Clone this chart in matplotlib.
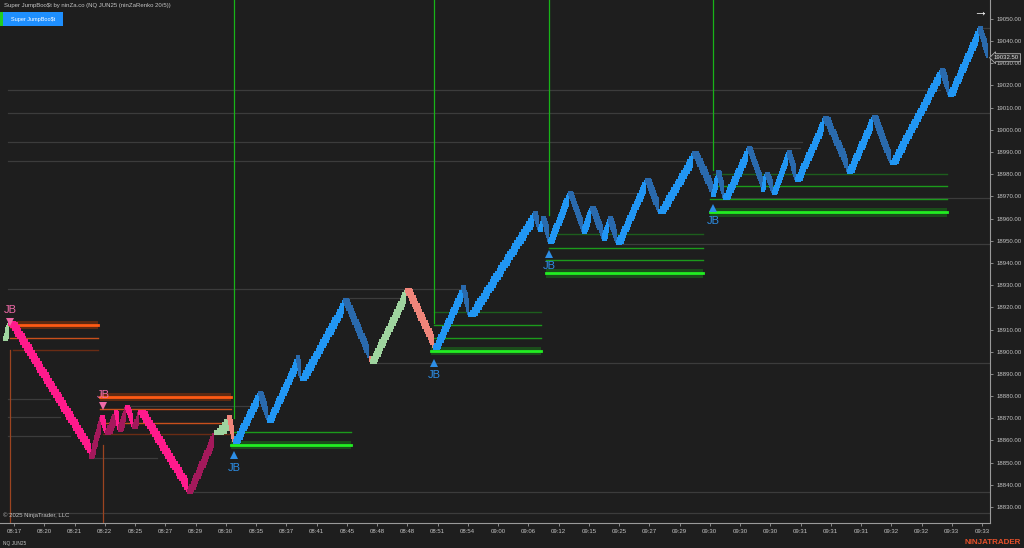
import numpy as np
import matplotlib.pyplot as plt
from matplotlib.patches import Rectangle

plt.rcParams['font.family'] = ['Liberation Sans', 'DejaVu Sans']

bg = '#1e1e1e'
txt_col = '#c4c4c4'

# swing pivots of the renko path: bar index, price, colour state of the leg ending there
piv_bar = [2, 4, 45, 50, 52.5, 57.5, 59, 62.5, 66, 69, 93.5, 106.5, 114, 116.5,
           129, 133.5, 148.5, 150, 171.5, 184, 185, 202.5, 216.5, 231, 234, 266.5,
           269, 271, 274, 284, 291, 295, 301, 304, 308, 322.5, 329, 346, 356, 358.5,
           361.5, 373.5, 381, 382.5, 386, 393.5, 397.5, 411.5, 423.5, 436, 445, 470,
           474, 489, 493.5]
piv_price = [18906, 18913, 18852.5, 18870.6, 18863.3, 18872.8, 18864.7, 18875, 18866,
             18872.8, 18836.8, 18863.3, 18870.6, 18859.3, 18881.4, 18869, 18897.6,
             18888, 18923.3, 18897, 18895.5, 18927.8, 18901.6, 18929, 18916.5, 18962.5,
             18955, 18960, 18949.4, 18971.5, 18954, 18964.7, 18951, 18960, 18949,
             18977.5, 18963, 18989.5, 18970.6, 18981, 18969.2, 18991.8, 18972.9, 18980,
             18971.5, 18990, 18977.4, 19005.3, 18981, 19005.8, 18985, 19027, 19015.7,
             19045.9, 19032.5]
piv_state = ['', 'pg', 'pk', 'dm', 'pk', 'dm', 'pk', 'dm', 'pk', 'dm', 'pk', 'dm', 'pg',
             'sa', 'bl', 'db', 'bl', 'db', 'bl', 'db', 'sa', 'pg', 'sa', 'bl', 'db', 'bl',
             'db', 'bl', 'db', 'bl', 'db', 'bl', 'db', 'bl', 'db', 'bl', 'db', 'bl', 'db',
             'bl', 'db', 'bl', 'db', 'bl', 'db', 'bl', 'db', 'bl', 'db', 'bl', 'db', 'bl',
             'db', 'bl', 'db']
state_col = {'bl': '#2196f3', 'db': '#2a6aad', 'pk': '#ff1a8c', 'dm': '#a3195b',
             'pg': '#9fd49f', 'sa': '#f0857a'}

brick_step = 1.25   # 5 ticks
brick_body = 6.5

# JumpBoost signals
jb_bar = [5, 51.5, 117, 217, 274.5, 356.5]
jb_price = [18913.4, 18875.5, 18853.4, 18894.9, 18944, 18964.7]
jb_dir = ['down', 'down', 'up', 'up', 'up', 'up']
jb_end = [49, 115.5, 175.5, 270.5, 351.5, 473.5]
jb_levels = [[18912, 18906.3, 18900.7],
             [18879.6, 18874, 18868, 18862.9],
             [18858, 18863.8],
             [18900.4, 18906.3, 18912, 18917.9],
             [18935.3, 18941.3, 18946.9, 18953],
             [18962.8, 18968.8, 18974.7, 18980.1]]
jb_vline = [18900.7, 18858, 18870, 18912.9, 18961.6, 18981.9]

# grey swing level lines: start bar, end bar, price
sw_start = [4, 4, 4, 45, 62.5, 93.5, 4, 171.5, 185, 284, 308, 4, 4, 4, 373.5, 361.5, 489, 4, 4]
sw_end = [25, 30, 35, 78.5, 130, 495, 231, 202.5, 495, 322.5, 495, 470, 495, 401, 400, 495, 495, 495, 346]
sw_price = [18878.8, 18870.7, 18862.1, 18852.1, 18875.6, 18836.7, 18928.2, 18924, 18894.9,
            18971.5, 18948.5, 19017.9, 19007.6, 18994.5, 18991.8, 18969.2, 19046, 18827.3,
            18985.9]

tick_labels = ['08:17', '08:20', '08:21', '08:22', '08:25', '08:27', '08:29', '08:30',
               '08:35', '08:37', '08:41', '08:45', '08:48', '08:48', '08:51', '08:54',
               '09:00', '09:06', '09:12', '09:15', '09:25', '09:27', '09:29', '09:30',
               '09:30', '09:30', '09:31', '09:31', '09:31', '09:32', '09:32', '09:33', '09:33']
last_price = 19032.50

fig = plt.figure(figsize=(10.24, 5.48), dpi=100)
fig.patch.set_facecolor(bg)
ax = fig.add_axes([0, 25/548, 990/1024, 523/548])
ax.set_facecolor(bg)
ax.set_xlim(0, 495)
ax.set_ylim(18822.8, 19058.5)

# grey swing lines
for s, e, p in zip(sw_start, sw_end, sw_price):
    ax.plot([s, e], [p, p], color='#3c3c3c', lw=0.9, zorder=1)

# JB levels
for i in range(len(jb_bar)):
    up = jb_dir[i] == 'up'
    x0 = jb_bar[i] - 1.5 if i > 0 else jb_bar[i]
    x1 = jb_end[i]
    lv = jb_levels[i]
    if up:
        main, glow, thin, dim = '#22ee22', '#1b4d1b', '#1c9a1c', '#1d5e1d'
    else:
        main, glow, thin, dim = '#ff5a14', '#5e2a12', '#c8501c', '#6a2c14'
    ax.fill_between([x0, x1], lv[0] - 1.9, lv[0] + 1.9, color=glow, lw=0, zorder=2)
    ax.plot([x0, x1], [lv[0], lv[0]], color=main, lw=2.0, zorder=3)
    for k, p in enumerate(lv[1:]):
        c = dim if k == len(lv) - 2 and len(lv) > 2 else thin
        ax.plot([x0 + (0 if k == 0 else 1.5), x1], [p, p], color=c, lw=1.0, zorder=2)
    if up:
        ax.plot([jb_bar[i], jb_bar[i]], [jb_vline[i], 19070], color='#18b418', lw=0.9, zorder=2)
    else:
        ax.plot([jb_bar[i], jb_bar[i]], [18800, jb_vline[i]], color='#9c4420', lw=0.9, zorder=2)

# renko bricks
xs, bots, hts, cols = [], [], [], []
for k in range(1, len(piv_bar)):
    b0, b1 = piv_bar[k - 1], piv_bar[k]
    p0, p1 = piv_price[k - 1], piv_price[k]
    n = max(1, int(round(abs(p1 - p0) / brick_step)))
    sgn = 1 if p1 > p0 else -1
    lo, hi = min(p0, p1), max(p0, p1)
    for j in range(1, n + 1):
        c = p0 + sgn * brick_step * j if j < n else p1
        if sgn > 0:
            b, t = max(c - brick_body, lo - 1.0), c
        else:
            b, t = c, min(c + brick_body, hi + 1.0)
        xs.append(b0 + (b1 - b0) * j / n)
        bots.append(b)
        hts.append(t - b)
        cols.append(state_col[piv_state[k]])
ax.bar(xs, hts, bottom=bots, width=1.3, color=cols, linewidth=0, zorder=4)

# JB markers
for i in range(len(jb_bar)):
    if jb_dir[i] == 'up':
        ax.plot(jb_bar[i], jb_price[i], marker='^', ms=6, color='#2d8ee6', mew=0, zorder=5)
        ax.text(jb_bar[i], jb_price[i] - 5.6, 'JB', color='#2d8ee6', fontsize=8,
                ha='center', va='center', zorder=5)
    else:
        ax.plot(jb_bar[i], jb_price[i], marker='v', ms=6, color='#f06aa8', mew=0, zorder=5)
        ax.text(jb_bar[i], jb_price[i] + 5.2, 'JB', color='#f06aa8', fontsize=8,
                ha='center', va='center', zorder=5)

# axes styling
for s in ['top', 'left']:
    ax.spines[s].set_visible(False)
for s in ['right', 'bottom']:
    ax.spines[s].set_color('#9a9a9a')
    ax.spines[s].set_linewidth(0.8)
yt = np.arange(18830, 19051, 10)
ax.yaxis.tick_right()
ax.set_yticks(yt)
ax.set_yticklabels(['%.2f' % v for v in yt])
xt = np.arange(len(tick_labels)) * 15.125 + 7
ax.set_xticks(xt)
ax.set_xticklabels(tick_labels)
ax.tick_params(axis='both', colors='#9a9a9a', labelcolor=txt_col, labelsize=4.3,
               length=2.5, width=0.6, pad=2)

ax.text(1.004, (last_price - 18822.8) / (19058.5 - 18822.8), '%.2f' % last_price,
        transform=ax.transAxes, fontsize=4.3, color='#e0e0e0', va='center', ha='left',
        bbox=dict(boxstyle='larrow,pad=0.25', fc='#2a2a2a', ec='#b0b0b0', lw=0.6))

# header, button, captions
fig.text(4/1024, 1 - 6/548, 'Super JumpBoo$t by ninZa.co (NQ JUN25 (ninZaRenko 20/5))',
         fontsize=4.3, color=txt_col, va='center', ha='left', parse_math=False)
fig.patches.append(Rectangle((0, 1 - 26/548), 3/1024, 14/548, transform=fig.transFigure,
                             fc='#22cc22', ec='none'))
fig.patches.append(Rectangle((3/1024, 1 - 26/548), 60/1024, 14/548, transform=fig.transFigure,
                             fc='#1e8fff', ec='none'))
fig.text(33/1024, 1 - 19/548, 'Super JumpBoo$t', fontsize=4.0, color='white',
         ha='center', va='center', parse_math=False)
fig.text(3/1024, 1 - 515/548, '\u00a9 2025 NinjaTrader, LLC', fontsize=4.3, color=txt_col,
         va='center', ha='left')
fig.text(3/1024, 1 - 543/548, 'NQ JUN25', fontsize=3.4, color=txt_col, va='center', ha='left')
fig.text(1021/1024, 1 - 543/548, 'NINJATRADER', fontsize=5.8, color='#e8502a',
         fontweight='bold', va='center', ha='right')
fig.text(980/1024, 1 - 12/548, '\u2192', fontsize=10, color='white', va='center', ha='center')

fig.savefig('out.png', dpi=100, facecolor=bg)
